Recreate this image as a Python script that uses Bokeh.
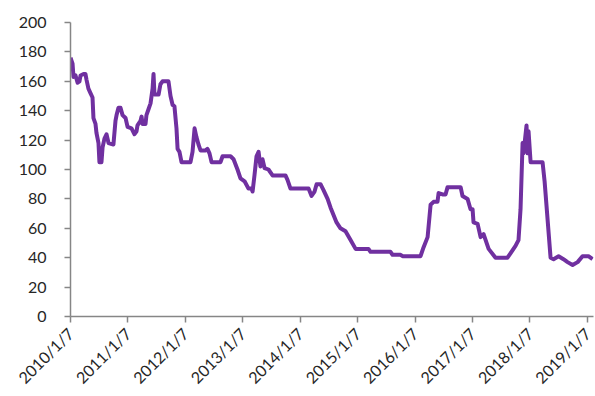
import math
import pandas as pd
from bokeh.plotting import figure
from bokeh.models import FixedTicker, Range1d
from bokeh.embed import file_html
from bokeh.resources import INLINE

dates = [
    "2010-01-07", "2010-01-20", "2010-01-26", "2010-02-08", "2010-02-21", "2010-03-05",
    "2010-03-12", "2010-03-31", "2010-04-12", "2010-04-19", "2010-05-01", "2010-05-14",
    "2010-05-27", "2010-06-02", "2010-06-15", "2010-06-21", "2010-07-04", "2010-07-10",
    "2010-07-23", "2010-07-30", "2010-08-11", "2010-08-24", "2010-09-06", "2010-10-07",
    "2010-10-20", "2010-10-27", "2010-11-08", "2010-11-21", "2010-12-04", "2010-12-23",
    "2011-01-05", "2011-01-30", "2011-02-18", "2011-03-03", "2011-03-09", "2011-03-28",
    "2011-04-04", "2011-04-10", "2011-04-29", "2011-05-05", "2011-05-18", "2011-05-31",
    "2011-06-13", "2011-06-19", "2011-06-25", "2011-07-21", "2011-08-02", "2011-08-15",
    "2011-09-22", "2011-10-05", "2011-10-18", "2011-10-30", "2011-11-12", "2011-11-19",
    "2011-12-01", "2011-12-14", "2012-02-09", "2012-02-22", "2012-03-06", "2012-03-18",
    "2012-03-31", "2012-04-13", "2012-05-15", "2012-05-27", "2012-06-09", "2012-06-22",
    "2012-08-18", "2012-08-31", "2012-10-21", "2012-11-09", "2012-12-04", "2012-12-23",
    "2013-01-18", "2013-02-12", "2013-03-03", "2013-03-10", "2013-03-22", "2013-04-04",
    "2013-04-17", "2013-04-29", "2013-05-12", "2013-05-25", "2013-06-19", "2013-07-15",
    "2013-10-05", "2013-10-18", "2013-11-06", "2014-03-01", "2014-03-20", "2014-04-08",
    "2014-04-21", "2014-05-16", "2014-06-04", "2014-06-30", "2014-07-19", "2014-08-26",
    "2014-09-20", "2014-10-22", "2014-11-23", "2014-12-25", "2015-01-25", "2015-03-17",
    "2015-03-30", "2015-08-04", "2015-08-17", "2015-10-07", "2015-10-20", "2016-02-11",
    "2016-03-01", "2016-03-27", "2016-04-15", "2016-05-04", "2016-05-29", "2016-06-05",
    "2016-06-30", "2016-07-19", "2016-08-01", "2016-10-23", "2016-11-04", "2016-12-06",
    "2016-12-25", "2017-01-07", "2017-01-13", "2017-02-08", "2017-02-27", "2017-03-18",
    "2017-04-19", "2017-06-02", "2017-08-17", "2017-09-05", "2017-10-07", "2017-10-26",
    "2017-11-08", "2017-11-21", "2017-11-27", "2017-12-16", "2017-12-23", "2017-12-29",
    "2018-01-11", "2018-03-28", "2018-04-10", "2018-04-29", "2018-05-18", "2018-06-06",
    "2018-07-08", "2018-08-08", "2018-09-03", "2018-10-05", "2018-11-06", "2018-12-07",
    "2019-01-14", "2019-02-09",
]
values = [
    176, 172, 163, 164, 159, 160,
    164, 165, 165, 161, 155, 152,
    149, 135, 131, 125, 118, 105,
    105, 115, 121, 124, 118, 117,
    133, 137, 142, 142, 137, 135,
    129, 128, 124, 126, 130, 133,
    136, 131, 131, 137, 141, 145,
    155, 165, 151, 151, 158, 160,
    160, 150, 144, 143, 128, 114,
    112, 105, 105, 112, 128, 122,
    117, 113, 113, 114, 111, 105,
    105, 109, 109, 107, 100, 94,
    92, 87, 87, 85, 96, 109,
    112, 102, 107, 101, 100, 96,
    96, 93, 87, 87, 82, 85,
    90, 90, 86, 80, 74, 64,
    60, 58, 52, 46, 46, 46,
    44, 44, 42, 42, 41, 41,
    47, 54, 76, 78, 78, 84,
    83, 83, 88, 88, 82, 80,
    73, 73, 64, 63, 54, 56,
    46, 40, 40, 43, 48, 52,
    73, 118, 111, 130, 111, 126,
    105, 105, 92, 66, 40, 39,
    41, 39, 37, 35, 37, 41,
    41, 39,
]
tick_labels = ["2010/1/7", "2011/1/7", "2012/1/7", "2013/1/7", "2014/1/7",
               "2015/1/7", "2016/1/7", "2017/1/7", "2018/1/7", "2019/1/7"]
y_ticks = [0, 20, 40, 60, 80, 100, 120, 140, 160, 180, 200]

x = pd.to_datetime(dates)
tick_dt = pd.to_datetime(tick_labels, format="%Y/%m/%d")
tick_ms = [t.value / 1e6 for t in tick_dt]

p = figure(width=595, height=396, x_axis_type="datetime",
           output_backend="svg", toolbar_location=None,
           min_border_left=70, min_border_right=2, min_border_top=22,
           min_border_bottom=79)
p.x_range = Range1d(tick_ms[0], pd.Timestamp("2019-02-15").value / 1e6)
p.y_range = Range1d(0, 200)

p.line(x, values, line_color="#7030A0", line_width=4, line_join="round")

p.outline_line_color = None
p.grid.visible = False
p.background_fill_color = "white"
p.border_fill_color = "white"

axis_col = "#868686"
font = "Lato"

p.xaxis.ticker = FixedTicker(ticks=tick_ms)
p.xaxis.major_label_overrides = {t: l for t, l in zip(tick_ms, tick_labels)}
p.xaxis.major_label_orientation = math.pi / 4
p.xaxis.major_label_standoff = 8

p.yaxis.ticker = FixedTicker(ticks=y_ticks)
p.yaxis.major_label_standoff = 18

for ax in (p.xaxis, p.yaxis):
    ax.axis_line_color = axis_col
    ax.axis_line_width = 1.5
    ax.major_tick_line_color = axis_col
    ax.major_tick_line_width = 1.5
    ax.major_tick_in = 0
    ax.major_tick_out = 6
    ax.minor_tick_line_color = None
    ax.major_label_text_font = font
    ax.major_label_text_font_size = "16px"
    ax.major_label_text_color = "#262626"

open("out.html", "w").write(file_html(p, INLINE))
